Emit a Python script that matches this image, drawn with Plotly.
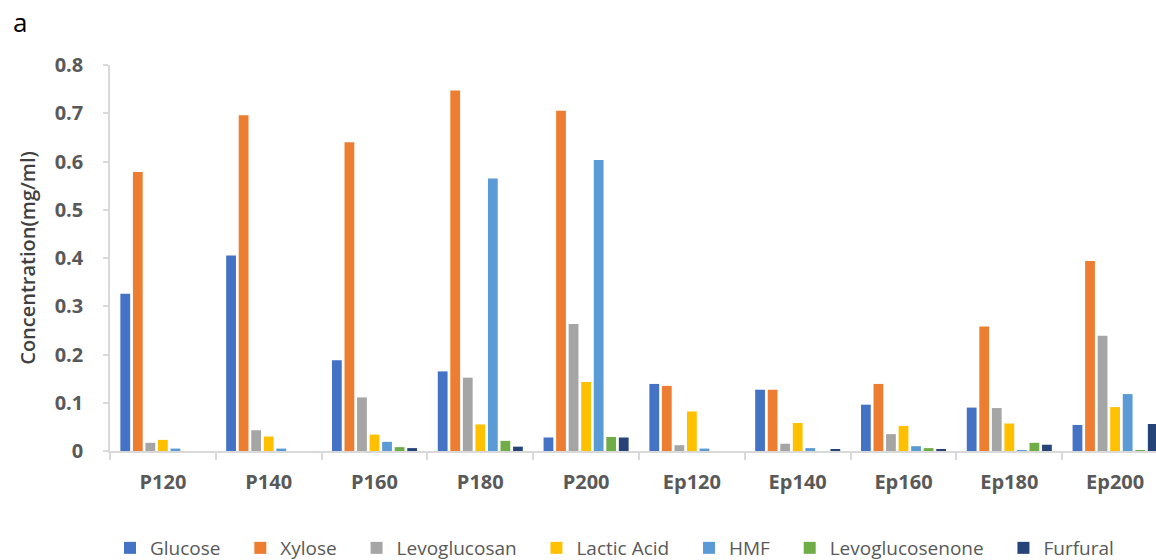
import plotly.graph_objects as go

categories = ["P120", "P140", "P160", "P180", "P200", "Ep120", "Ep140", "Ep160", "Ep180", "Ep200"]
glucose = [0.326, 0.405, 0.188, 0.165, 0.028, 0.139, 0.127, 0.096, 0.090, 0.054]
xylose = [0.578, 0.696, 0.640, 0.747, 0.705, 0.135, 0.127, 0.139, 0.258, 0.394]
levoglucosan = [0.017, 0.043, 0.111, 0.152, 0.263, 0.012, 0.015, 0.035, 0.089, 0.239]
lactic_acid = [0.023, 0.030, 0.034, 0.055, 0.143, 0.082, 0.058, 0.052, 0.057, 0.091]
hmf = [0.005, 0.005, 0.019, 0.565, 0.603, 0.005, 0.006, 0.010, 0.002, 0.118]
levoglucosenone = [0.0, 0.0, 0.008, 0.021, 0.029, 0.0, 0.0, 0.006, 0.017, 0.002]
furfural = [0.0, 0.0, 0.006, 0.009, 0.028, 0.0, 0.003, 0.004, 0.013, 0.056]

series = [
    ("Glucose", glucose, "#4472C4"),
    ("Xylose", xylose, "#ED7D31"),
    ("Levoglucosan", levoglucosan, "#A5A5A5"),
    ("Lactic Acid", lactic_acid, "#FFC000"),
    ("HMF", hmf, "#5B9BD5"),
    ("Levoglucosenone", levoglucosenone, "#70AD47"),
    ("Furfural", furfural, "#264478"),
]

PAD = "\u00a0\u00a0\u00a0"

fig = go.Figure()
for name, vals, color in series:
    fig.add_trace(go.Bar(x=categories, y=vals, name=name + PAD,
                         marker=dict(color=color, line=dict(width=0))))

font_family = "Open Sans, Noto Sans, sans-serif"
axis_color = "#D9D9D9"
text_color = "#595959"

fig.update_layout(
    width=1156, height=560,
    paper_bgcolor="white", plot_bgcolor="white",
    margin=dict(l=110, r=0, t=65, b=109, autoexpand=False),
    barmode="group", bargap=0.17, bargroupgap=0.22,
    font=dict(family=font_family, color=text_color),
    showlegend=True,
    legend=dict(orientation="h", x=110 / 1156, xref="container", xanchor="left",
                y=1 - 548 / 560, yref="container", yanchor="middle",
                font=dict(size=19, color=text_color), traceorder="normal",
                itemwidth=30),
)
fig.add_annotation(text="a", xref="paper", yref="paper", x=(11 - 110) / 1046, y=1 + 43 / 386,
                   xanchor="left", yanchor="middle", showarrow=False,
                   font=dict(size=26, color="#000000", family=font_family))

fig.update_xaxes(
    range=[-0.5, 9.5 - 12 / 105.8],
    showline=True, linecolor=axis_color, linewidth=1.5,
    ticks="outside", tickson="boundaries", ticklen=7, tickcolor=axis_color, tickwidth=1.5,
    tickfont=dict(size=20, color=text_color, family=font_family, weight="bold"),
    ticklabelstandoff=12,
    showgrid=False, zeroline=False,
)
fig.update_yaxes(
    range=[0, 0.8],
    tickvals=[0, 0.1, 0.2, 0.3, 0.4, 0.5, 0.6, 0.7, 0.8],
    ticktext=["0", "0.1", "0.2", "0.3", "0.4", "0.5", "0.6", "0.7", "0.8"],
    showline=True, linecolor=axis_color, linewidth=1.5,
    ticks="outside", ticklen=5, tickcolor=axis_color, tickwidth=1.5,
    tickfont=dict(size=20, color=text_color, family=font_family, weight="bold"),
    ticklabelstandoff=16,
    showgrid=False, zeroline=False,
    title=dict(text="Concentration(mg/ml)", standoff=14,
               font=dict(size=20, color="#404040", family=font_family, weight=600)),
)

fig.write_html("out.html")
